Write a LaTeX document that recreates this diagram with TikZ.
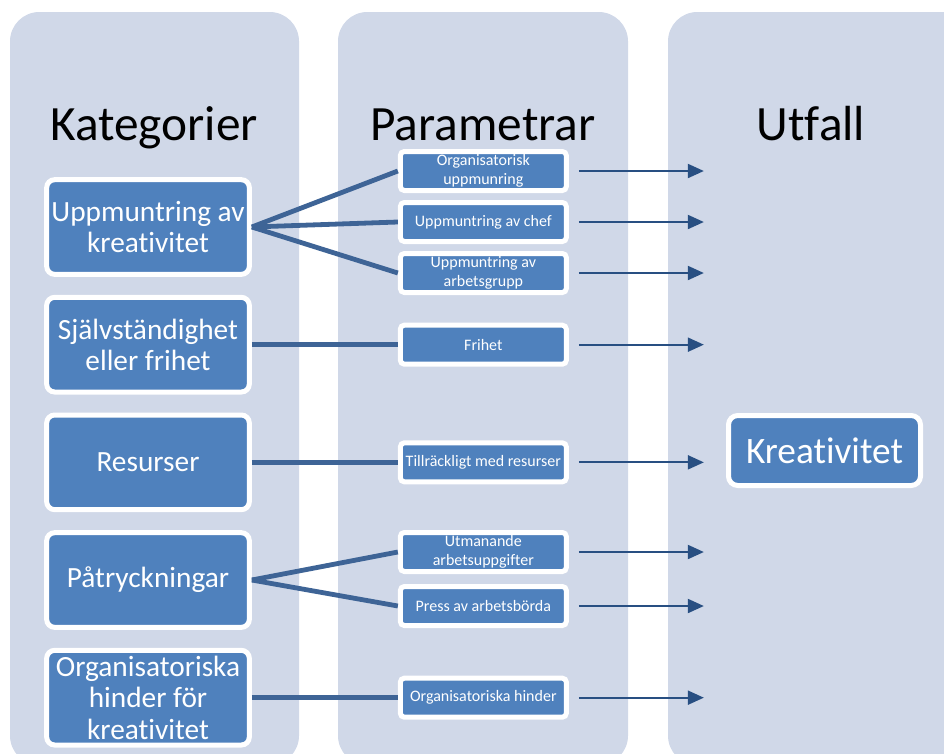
\documentclass[tikz,border=0pt]{standalone}
\usepackage{fontspec}
\setmainfont[Ligatures=NoCommon]{Carlito}
\usetikzlibrary{positioning,arrows.meta}

\definecolor{panelgray}{HTML}{D0D8E8}
\definecolor{boxblue}{HTML}{4F81BD}
\definecolor{linkblue}{HTML}{3E6496}
\definecolor{arrowblue}{HTML}{284F82}

\begin{document}
\begin{tikzpicture}[
    x=0.75pt, y=-0.75pt,
    node distance = 13.5pt and 109.5pt,
    panel/.style = {
        fill=panelgray,
        rounded corners=22pt
    },
    header/.style = {
        anchor=base,
        font=\fontsize{37}{40}\selectfont
    },
    catbox/.style = {
        rectangle,
        draw=white,
        line width=3.75pt,
        fill=boxblue,
        text=white,
        rounded corners=6pt,
        minimum width=152pt,
        minimum height=71pt,
        inner sep=1pt,
        align=center,
        font=\fontsize{22}{23.5}\selectfont
    },
    parbox/.style = {
        catbox,
        rounded corners=3pt,
        minimum width=124.5pt,
        minimum height=29.25pt,
        font=\fontsize{12}{14}\selectfont
    },
    outbox/.style = {
        catbox,
        rounded corners=7pt,
        minimum width=144pt,
        minimum height=52.5pt,
        font=\fontsize{28}{32}\selectfont
    },
    link/.style = {
        draw=linkblue,
        line width=3.6pt
    },
    arrow/.style = {
        -{Triangle[length=12pt,width=10.5pt]},
        draw=arrowblue,
        line width=1.5pt
    }
]

\clip (0,0) rectangle (944,753);

% background columns
\fill [panel] (10,12) rectangle (299,765);
\fill [panel] (338,12) rectangle (628,765);
\fill [panel] (668,12) rectangle (990,765);

\node (hcat) [header] at (154,140) {Kategorier};
\node (hpar) [header] at (483,140) {Parametrar};
\node (hout) [header] at (811,140) {Utfall};

% categories
\node (k1) [catbox] at (148,227) {Uppmuntring av\\kreativitet};
\node (k2) [catbox, below=of k1] {Självständighet\\eller frihet};
\node (k3) [catbox, below=of k2] {Resurser};
\node (k4) [catbox, below=of k3] {Påtryckningar};
\node (k5) [catbox, below=of k4] {Organisatoriska\\hinder för\\kreativitet};

% parameters
\node (p2) [parbox, right=of k1, yshift=3.75pt] {Uppmuntring av chef};
\node (p1) [parbox, above=5.25pt of p2] {Organisatorisk\\uppmunring};
\node (p3) [parbox, below=5.25pt of p2] {Uppmuntring av\\arbetsgrupp};
\node (p4) [parbox, right=of k2] {Frihet};
\node (p5) [parbox, right=of k3] {Tillräckligt med resurser};
\node (p6) [parbox, right=of k4, yshift=21pt] {Utmanande\\arbetsuppgifter};
\node (p7) [parbox, below=7.5pt of p6] {Press av arbetsbörda};
\node (p8) [parbox, right=of k5] {Organisatoriska hinder};

% outcome
\node (out) [outbox] at (824.5,450.5) {Kreativitet};

\foreach \n in {p1,p2,p3}
    \draw [link] (k1.east) -- (\n.west);
\draw [link] (k2.east) -- (p4.west);
\draw [link] (k3.east) -- (p5.west);
\draw [link] (k4.east) -- (p6.west);
\draw [link] (k4.east) -- (p7.west);
\draw [link] (k5.east) -- (p8.west);

\foreach \n in {p1,p2,p3,p4,p5,p6,p7,p8}
    \draw [arrow] ([xshift=7.5pt]\n.east) -- ([xshift=101.25pt]\n.east);

\end{tikzpicture}
\end{document}
